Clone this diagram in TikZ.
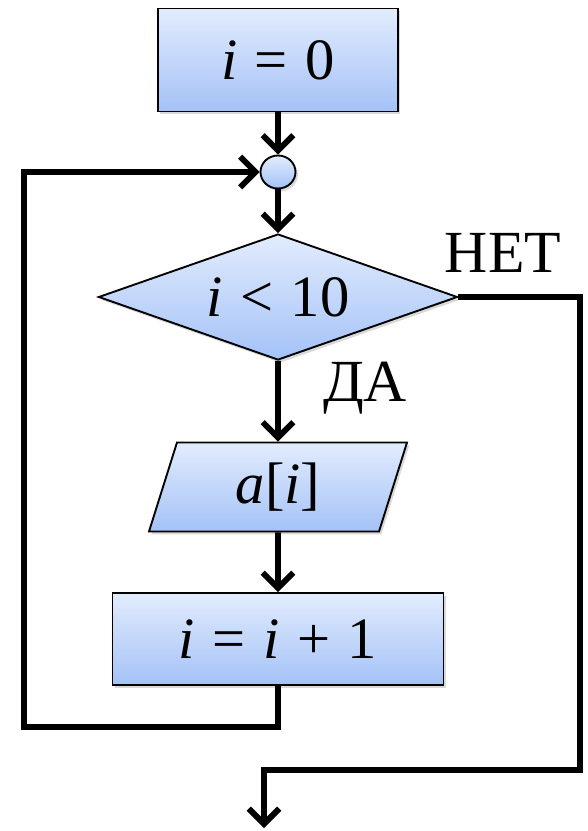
\documentclass[tikz,border=0pt]{standalone}
\usepackage{fontspec}
\setmainfont{Liberation Serif}
\usetikzlibrary{arrows.meta,shapes.geometric,shadows}
\definecolor{fillTop}{HTML}{E2ECFD}
\definecolor{fillBot}{HTML}{A4C2F7}
\newcommand{\opsep}{\hspace{0.3em}}
\tikzset{
  block/.style={draw=black,line width=1.6pt,top color=fillTop,bottom color=fillBot,
    drop shadow={shadow xshift=2pt,shadow yshift=-2.5pt,opacity=0.3},
    inner sep=0pt,font=\fontsize{50}{54}\selectfont},
  flow/.style={line width=5pt,-{Straight Barb[length=13pt,width=26pt]}},
  lab/.style={font=\fontsize{51}{55}\selectfont}
}
\begin{document}
\begin{tikzpicture}[x=0.03cm,y=-0.03cm]
  \useasboundingbox (0,0) rectangle (588,831);
  % blocks
  \node[block,rectangle,minimum width=7.2cm,minimum height=3.09cm] (init) at (278,60) {\textit{i}\opsep=\opsep0};
  \node[block,ellipse,minimum width=1.05cm,minimum height=0.99cm] (join) at (278,172) {};
  \node[block,diamond,aspect=2.85,minimum width=10.77cm,minimum height=3.78cm] (cond) at (278,297) {\textit{i}\opsep<\opsep10};
  \node[block,trapezium,trapezium left angle=60,trapezium right angle=120,trapezium stretches body,
    minimum width=7.74cm,minimum height=2.67cm] (out) at (278,487) {\textit{a}[\textit{i}]};
  \node[block,rectangle,minimum width=9.93cm,minimum height=2.76cm] (inc) at (278,639) {\textit{i}\opsep=\opsep\textit{i}\opsep+\opsep1};
  % labels
  \node[lab] (labNo) at (503,253) {НЕТ};
  \node[lab] (labYes) at (365,388) {ДА};
  % turning points
  \coordinate (loopL) at (24,727);
  \coordinate (exitR) at (580,770);
  \coordinate (exitE) at (264,828);
  % connectors
  \draw[flow] (init) -- (join);
  \draw[flow] (join) -- (cond);
  \draw[flow] (cond) -- (out);
  \draw[flow] (out) -- (inc);
  \draw[flow] (inc.south) |- (loopL) |- (join.west);
  \draw[flow] (cond.east) -| (exitR) -| (exitE);
\end{tikzpicture}
\end{document}
